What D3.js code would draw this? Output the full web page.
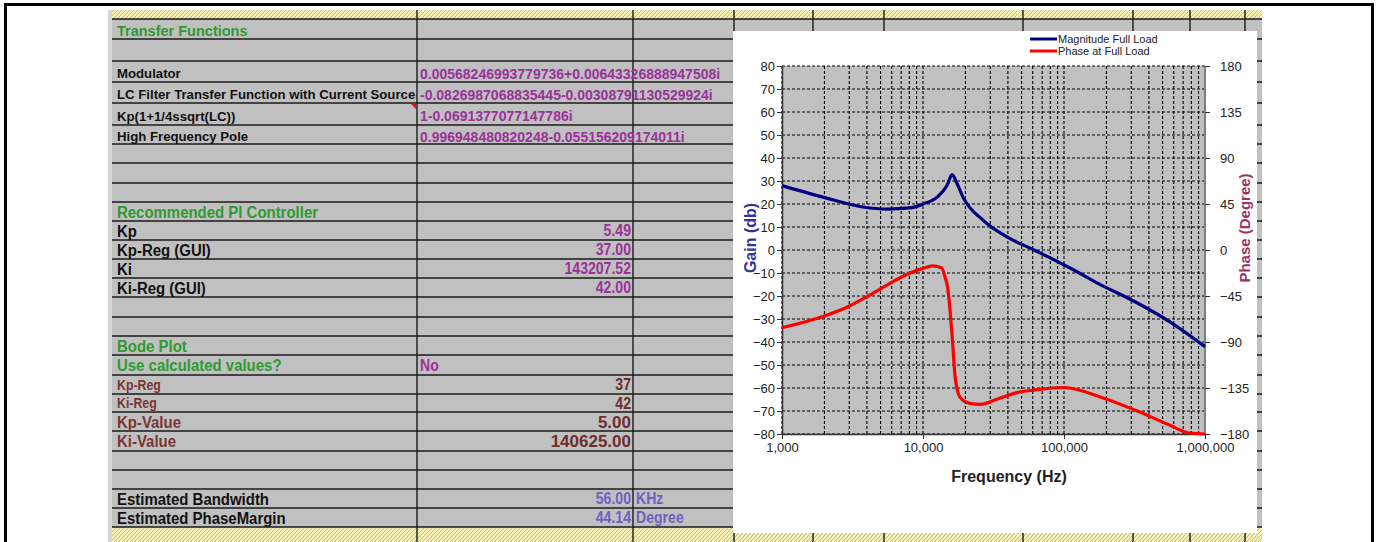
<!DOCTYPE html>
<html>
<head>
<meta charset="utf-8">
<script src="https://cdn.jsdelivr.net/npm/d3@7"></script>
<style>
  body { margin: 0; background: #fff; }
  svg { display: block; font-family: 'Liberation Sans', Arial, sans-serif; }
  .lab-green { fill: #2f9a2f; font-weight: bold; }
  .lab-black { fill: #111; font-weight: bold; }
  .lab-brown { fill: #7a3535; font-weight: bold; }
  .val-purple { fill: #993399; font-weight: bold; }
  .val-brown { fill: #6e2e2e; font-weight: bold; }
  .val-lav { fill: #7060c0; font-weight: bold; }
  .axis text { fill: #222; font-size: 13px; }
  .axis path, .axis line { stroke: #333; }
  .legend text { fill: #222; font-size: 11px; }
</style>
</head>
<body>
<div id="chart"></div>
<script>
// spreadsheet content
var rowLabels = ['Transfer Functions', '', 'Modulator', 'LC Filter Transfer Function with Current Source I',
    'Kp(1+1/4ssqrt(LC))', 'High Frequency Pole', '', '', '', 'Recommended PI Controller', 'Kp', 'Kp-Reg (GUI)',
    'Ki', 'Ki-Reg (GUI)', '', '', 'Bode Plot', 'Use calculated values?', 'Kp-Reg', 'Ki-Reg', 'Kp-Value',
    'Ki-Value', '', '', 'Estimated Bandwidth', 'Estimated PhaseMargin'];
var rowValues = ['', '', '0.00568246993779736+0.00643326888947508i', '-0.0826987068835445-0.00308791130529924i',
    '1-0.0691377077147786i', '0.996948480820248-0.055156209174011i', '', '', '', '', '5.49', '37.00',
    '143207.52', '42.00', '', '', '', 'No', '37', '42', '5.00', '140625.00', '', '', '56.00', '44.14'];
var rowUnits = ['', '', '', '', '', '', '', '', '', '', '', '', '', '', '', '', '', '', '', '', '', '', '', '',
    'KHz', 'Degree'];

// bode plot data
var magFreq = [1000, 1950, 3750, 5550, 8100, 10000, 12600, 14800, 16100, 17400, 19200, 26600, 39400,
    61300, 107000, 174000, 319000, 556000, 1000000];
var magDb = [28, 23, 18.7, 17.8, 18.3, 20, 23, 28, 32.8, 29, 23, 13, 5.7, 0, -7.4, -14.5, -22.5, -31, -42];
var phaseFreq = [1000, 1950, 2890, 4210, 6120, 8090, 10000, 11600, 13600, 14300, 15000, 16100, 16900,
    18300, 21500, 25400, 33500, 46400, 61300, 100000, 183000, 319000, 556000, 771000, 1000000];
var phaseDeg = [-76, -65, -56, -44, -31, -22.5, -18, -15.5, -17.5, -26, -38, -85, -124, -144, -150, -151,
    -146, -139.5, -137, -134.5, -144, -156.6, -171, -179, -180];
var gainTicks = [-80, -70, -60, -50, -40, -30, -20, -10, 0, 10, 20, 30, 40, 50, 60, 70, 80];
var phaseTicks = [-180, -135, -90, -45, 0, 45, 90, 135, 180];
var freqTicks = [1000, 10000, 100000, 1000000];
var seriesNames = ['Magnitude Full Load', 'Phase at Full Load'];

// layout of the sheet
var rowEdges = [19, 39, 61, 82, 103, 125, 144, 163, 183, 202, 221, 240, 259, 278, 297, 317, 336, 355, 375,
    394, 412, 431, 451, 470, 489, 508, 527];
var colEdges = [108, 417, 633, 734, 813, 884, 1023, 1133, 1190, 1245, 1262];
var rowKind = ['h1', '', 'tf', 'tf', 'tf', 'tf', '', '', '', 'h2', 'pi', 'pi', 'pi', 'pi', '', '', 'h2', 'use',
    'reg', 'reg', 'kv', 'kv', '', '', 'est', 'est'];
var kinds = {
    h1: {lab: 'lab-green', ls: 14.5, sx: 1, dy: 2},
    tf: {lab: 'lab-black', ls: 13.2, val: 'val-purple', vs: 14, anchor: 'start', sx: 1, vsx: 1, dy: 2},
    h2: {lab: 'lab-green', ls: 17, sx: 0.88, dy: 0},
    pi: {lab: 'lab-black', ls: 17, val: 'val-purple', vs: 16, anchor: 'end', sx: 0.88, vsx: 0.88, dy: 0},
    use: {lab: 'lab-green', ls: 17, val: 'val-purple', vs: 16, anchor: 'start', sx: 0.88, vsx: 0.88, dy: 0},
    reg: {lab: 'lab-brown', ls: 14, val: 'val-brown', vs: 16, anchor: 'end', sx: 0.88, vsx: 0.88, dy: 0},
    kv: {lab: 'lab-brown', ls: 17, val: 'val-brown', vs: 17, anchor: 'end', sx: 0.88, vsx: 1, dy: 0},
    est: {lab: 'lab-black', ls: 17, val: 'val-lav', vs: 16, anchor: 'end', sx: 0.88, vsx: 0.88, dy: 0}
};

var width = 1379, height = 542;
var svg = d3.select('#chart').append('svg')
    .attr('width', width)
    .attr('height', height);

var defs = svg.append('defs');
var hatch = defs.append('pattern')
    .attr('id', 'hatch')
    .attr('patternUnits', 'userSpaceOnUse')
    .attr('width', 4).attr('height', 4);
hatch.append('rect').attr('width', 4).attr('height', 4).attr('fill', '#f3efb6');
hatch.append('path')
    .attr('d', 'M-1,1 l2,-2 M0,4 l4,-4 M3,5 l2,-2')
    .attr('stroke', '#c2ba74').attr('stroke-width', 0.9);
defs.append('clipPath').attr('id', 'colA')
    .append('rect').attr('x', 108).attr('y', 0).attr('width', 308).attr('height', height);

// ---- sheet ----
var sheet = svg.append('g');
var sx0 = colEdges[0], sx1 = colEdges[colEdges.length - 1];
sheet.append('rect').attr('x', sx0).attr('y', 10).attr('width', sx1 - sx0).attr('height', 9)
    .attr('fill', 'url(#hatch)');
sheet.append('rect').attr('x', sx0).attr('y', rowEdges[rowEdges.length - 1]).attr('width', sx1 - sx0)
    .attr('height', 20).attr('fill', 'url(#hatch)');
sheet.append('rect').attr('x', sx0).attr('y', rowEdges[0]).attr('width', sx1 - sx0)
    .attr('height', rowEdges[rowEdges.length - 1] - rowEdges[0]).attr('fill', '#c0c0c0');
sheet.append('rect').attr('x', sx0).attr('y', 10).attr('width', 4).attr('height', 535)
    .attr('fill', '#d6d6d6');

sheet.selectAll('.hline').data(rowEdges).enter().append('line')
    .attr('x1', sx0 + 4).attr('x2', sx1)
    .attr('y1', function (d) { return d; }).attr('y2', function (d) { return d; })
    .attr('stroke', '#1a1a1a').attr('stroke-width', 1.6);
sheet.selectAll('.vline').data(colEdges.slice(1, -1)).enter().append('line')
    .attr('x1', function (d) { return d; }).attr('x2', function (d) { return d; })
    .attr('y1', 10).attr('y2', height)
    .attr('stroke', '#1a1a1a').attr('stroke-width', 1.4);

function cellText(g, x, y, str, cls, size, anchor, sx) {
    g.append('text')
        .attr('transform', 'translate(' + x + ',' + y + ')' + (sx !== 1 ? ' scale(' + sx + ',1)' : ''))
        .attr('class', cls)
        .attr('font-size', size)
        .attr('text-anchor', anchor)
        .text(str);
}

var colA = sheet.append('g').attr('clip-path', 'url(#colA)');
rowLabels.forEach(function (lab, i) {
    var k = kinds[rowKind[i]];
    if (!k) return;
    var cy = (rowEdges[i] + rowEdges[i + 1]) / 2 + k.dy;
    cellText(colA, 117, cy + k.ls * 0.36, lab, k.lab, k.ls, 'start', k.sx);
    if (rowValues[i]) {
        var vx = k.anchor === 'end' ? colEdges[2] - 2 : colEdges[1] + 3;
        cellText(sheet, vx, cy + k.vs * 0.36, rowValues[i], k.val, k.vs, k.anchor, k.vsx);
    }
    if (rowUnits[i]) {
        cellText(sheet, colEdges[2] + 3, cy + k.vs * 0.36, rowUnits[i], k.val, k.vs, 'start', k.vsx);
    }
});
// comment marker on the Kp(...) cell
sheet.append('path')
    .attr('d', 'M' + (colEdges[1] - 6) + ',' + (rowEdges[4] + 1) + ' L' + (colEdges[1] - 1) + ',' +
        (rowEdges[4] + 1) + ' L' + (colEdges[1] - 1) + ',' + (rowEdges[4] + 6) + 'Z')
    .attr('fill', '#e01010');

// ---- chart object ----
var chart = svg.append('g');
chart.append('rect').attr('x', 733).attr('y', 31).attr('width', 524).attr('height', 502).attr('fill', '#fff');

var x = d3.scaleLog().domain([1000, 1000000]).range([782, 1205]);
var yG = d3.scaleLinear().domain([-80, 80]).range([434, 66]);
var yP = d3.scaleLinear().domain([-180, 180]).range([434, 66]);

chart.append('rect')
    .attr('x', x.range()[0]).attr('y', yG.range()[1])
    .attr('width', x.range()[1] - x.range()[0]).attr('height', yG.range()[0] - yG.range()[1])
    .attr('fill', '#c0c0c0');

chart.selectAll('.vgrid').data(x.ticks()).enter().append('line')
    .attr('x1', function (d) { return x(d); }).attr('x2', function (d) { return x(d); })
    .attr('y1', yG.range()[0]).attr('y2', yG.range()[1])
    .attr('stroke', '#000').attr('stroke-width', 1.1).attr('stroke-dasharray', '3,2');
chart.selectAll('.hgrid').data(gainTicks).enter().append('line')
    .attr('x1', x.range()[0]).attr('x2', x.range()[1])
    .attr('y1', function (d) { return yG(d); }).attr('y2', function (d) { return yG(d); })
    .attr('stroke', '#000').attr('stroke-width', 1.1).attr('stroke-dasharray', '3,2');

chart.append('line')
    .attr('x1', x.range()[1]).attr('x2', x.range()[1])
    .attr('y1', yG.range()[0]).attr('y2', yG.range()[1])
    .attr('stroke', '#808080').attr('stroke-width', 2);

chart.append('g').attr('class', 'axis')
    .attr('transform', 'translate(' + x.range()[0] + ',0)')
    .call(d3.axisLeft(yG).tickValues(gainTicks).tickSize(5).tickSizeOuter(0).tickPadding(2))
    .call(function (g) { g.select('.domain').attr('stroke-width', 1.5); });
chart.append('g').attr('class', 'axis')
    .attr('transform', 'translate(0,' + yG.range()[0] + ')')
    .call(d3.axisBottom(x).tickValues(freqTicks).tickFormat(d3.format(',')).tickSize(5)
        .tickSizeOuter(0).tickPadding(4))
    .call(function (g) { g.select('.domain').attr('stroke-width', 1.5); });
chart.append('g').attr('class', 'axis')
    .attr('transform', 'translate(' + x.range()[1] + ',0)')
    .call(d3.axisRight(yP).tickValues(phaseTicks).tickSize(5).tickSizeOuter(0).tickPadding(10))
    .call(function (g) { g.select('.domain').remove(); });

var magLine = d3.line()
    .x(function (d, i) { return x(magFreq[i]); })
    .y(function (d) { return yG(d); })
    .curve(d3.curveMonotoneX);
var phaseLine = d3.line()
    .x(function (d, i) { return x(phaseFreq[i]); })
    .y(function (d) { return yP(d); })
    .curve(d3.curveMonotoneX);

chart.append('path').attr('d', magLine(magDb))
    .attr('fill', 'none').attr('stroke', '#000080').attr('stroke-width', 3.2).attr('stroke-linejoin', 'round');
chart.append('path').attr('d', phaseLine(phaseDeg))
    .attr('fill', 'none').attr('stroke', '#ff0000').attr('stroke-width', 3.2).attr('stroke-linejoin', 'round');

// axis titles
chart.append('text')
    .attr('transform', 'translate(756,238) rotate(-90)')
    .attr('text-anchor', 'middle')
    .attr('font-size', 16).attr('font-weight', 'bold').attr('fill', '#333399')
    .text('Gain (db)');
chart.append('text')
    .attr('transform', 'translate(1250,228) rotate(-90)')
    .attr('text-anchor', 'middle')
    .attr('font-size', 15).attr('font-weight', 'bold').attr('fill', '#993366')
    .text('Phase (Degree)');
chart.append('text')
    .attr('x', 1009).attr('y', 482)
    .attr('text-anchor', 'middle')
    .attr('font-size', 16).attr('font-weight', 'bold').attr('fill', '#222')
    .text('Frequency (Hz)');

// legend
var legend = chart.append('g').attr('class', 'legend');
var legendColors = ['#000080', '#ff0000'];
seriesNames.forEach(function (name, i) {
    var ly = 39 + i * 12;
    legend.append('line').attr('x1', 1030).attr('x2', 1057).attr('y1', ly).attr('y2', ly)
        .attr('stroke', legendColors[i]).attr('stroke-width', 3);
    legend.append('text').attr('x', 1058).attr('y', ly + 4).text(name);
});

// outer frame
svg.append('rect')
    .attr('x', 5.5).attr('y', 4.5).attr('width', 1367).attr('height', 560)
    .attr('fill', 'none').attr('stroke', '#000').attr('stroke-width', 3);
</script>
</body>
</html>
